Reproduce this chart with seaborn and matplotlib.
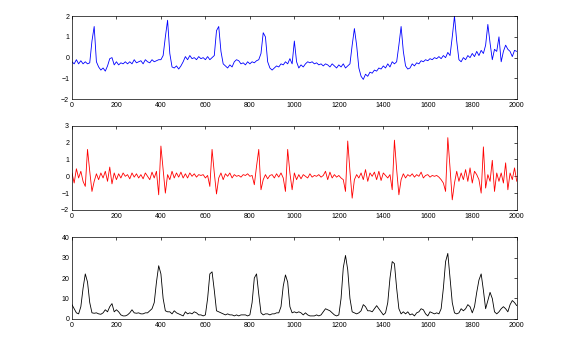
import pandas as pd
import matplotlib
matplotlib.use("Agg")
import matplotlib.pyplot as plt
import seaborn as sns

# sample positions (every 10 samples, 0..2000)
sample_x = list(range(0, 2001, 10))

# raw ECG signal (top, blue)
raw_ecg = [
    -0.2, -0.3, -0.1, -0.3, -0.15, -0.3, -0.2, -0.3, -0.25, 0.8,
    1.5, -0.2, -0.45, -0.6, -0.5, -0.65, -0.4, -0.05, 0.0, -0.35,
    -0.2, -0.35, -0.25, -0.3, -0.2, -0.3, -0.2, -0.3, -0.1, -0.25,
    -0.2, -0.15, -0.3, -0.1, -0.2, -0.25, -0.1, -0.2, -0.15, -0.1,
    -0.1, 0.1, 1.0, 1.8, 0.2, -0.45, -0.5, -0.4, -0.55, -0.4,
    -0.2, 0.05, -0.1, 0.1, -0.05, 0.0, -0.1, 0.05, -0.05, 0.0,
    -0.1, 0.05, -0.1, 0.0, 0.1, 1.3, 1.5, 0.3, -0.3, -0.4,
    -0.5, -0.35, -0.45, -0.2, -0.1, -0.15, -0.3, -0.25, -0.35, -0.2,
    -0.3, -0.2, -0.25, -0.15, -0.1, 0.2, 1.2, 1.0, -0.2, -0.5,
    -0.6, -0.5, -0.4, -0.45, -0.3, -0.35, -0.2, -0.3, -0.05, -0.3,
    0.8, -0.2, -0.5, -0.35, -0.45, -0.3, -0.2, -0.25, -0.2, -0.3,
    -0.25, -0.35, -0.3, -0.4, -0.3, -0.35, -0.45, -0.3, -0.4, -0.5,
    -0.35, -0.45, -0.3, -0.5, -0.4, -0.3, 0.6, 1.4, 0.6, -0.5,
    -0.9, -1.05, -0.8, -0.9, -0.7, -0.75, -0.6, -0.65, -0.5, -0.55,
    -0.4, -0.5, -0.3, -0.45, -0.2, -0.3, -0.2, 0.6, 1.5, 0.3,
    -0.4, -0.55, -0.5, -0.3, -0.4, -0.25, -0.3, -0.15, -0.2, -0.1,
    -0.15, -0.05, -0.1, 0.0, -0.05, 0.05, -0.05, 0.1, 0.0, 0.25,
    0.1, 1.0, 2.0, 0.8, -0.1, -0.2, 0.0, -0.1, 0.1, 0.0,
    0.2, 0.05, 0.3, 0.1, 0.35, 0.2, 0.6, 1.6, 0.7, -0.1,
    0.4, 0.3, 1.0, -0.2, 0.3, 0.6, 0.4, 0.3, 0.05, 0.35,
    0.3,
]

# band-pass filtered signal (middle, red)
filtered = [
    0.2, -0.4, 0.45, -0.1, 0.3, -0.3, -0.6, 1.6, 0.3, -0.9,
    -0.3, 0.15, -0.2, 0.2, -0.1, 0.3, -0.3, 0.55, -0.45, 0.2,
    -0.2, 0.15, -0.1, 0.2, 0.0, 0.1, -0.15, 0.2, -0.05, 0.15,
    -0.1, 0.1, -0.15, 0.2, 0.0, -0.2, 0.25, -0.1, 0.3, -1.1,
    1.8, 0.4, -1.0, 0.1, -0.2, 0.3, -0.1, 0.2, -0.05, 0.25,
    -0.1, 0.15, -0.1, 0.2, 0.0, 0.15, -0.05, 0.1, 0.05, 0.1,
    -0.1, 0.05, -0.6, 1.6, 0.2, -1.05, -0.1, 0.2, -0.2, 0.15,
    0.0, 0.2, -0.1, 0.1, 0.0, 0.05, -0.05, 0.1, 0.05, 0.15,
    0.0, 0.05, -0.5, 0.6, 1.6, -0.8, -0.2, 0.1, -0.15, 0.05,
    0.1, -0.1, 0.15, -0.05, 0.2, -0.1, -0.9, 1.6, 0.2, -0.8,
    0.2, -0.2, 0.1, -0.15, 0.1, 0.0, -0.1, 0.15, -0.05, 0.05,
    0.0, 0.1, -0.05, 0.05, 0.3, -0.2, 0.25, -0.1, 0.1, -0.05,
    0.05, -0.1, -0.2, -0.9, 2.1, 0.3, -1.3, -0.2, 0.1, -0.1,
    0.2, -0.2, 0.4, -0.3, 0.2, 0.0, 0.25, -0.2, 0.3, -0.25,
    0.2, 0.05, -0.1, 0.1, -0.8, 2.15, 0.4, -1.1, -0.2, 0.15,
    -0.1, 0.1, 0.0, 0.15, -0.05, 0.1, 0.0, 0.25, -0.1, 0.05,
    0.1, -0.05, 0.05, 0.0, 0.05, -0.05, -0.2, -0.4, -0.9, 2.3,
    0.5, -1.4, -0.4, 0.3, -0.3, 0.2, -0.2, 0.4, -0.3, 0.5,
    -0.4, 0.3, 0.1, -0.2, -1.0, 1.75, -0.7, 0.1, -0.3, 0.95,
    -0.9, 0.2, -0.3, 0.2, -0.4, 0.8, -0.8, 0.2, -0.2, 0.5,
    -0.3,
]

# energy envelope (bottom, black)
envelope = [
    7, 5, 3, 2.5, 6, 15, 22, 18, 8, 3,
    2.8, 3, 2.5, 2.3, 3, 4.5, 3.5, 6, 7.5, 3.5,
    4.5, 3.5, 2, 1.5, 1.5, 2, 3, 4.5, 3, 2.8,
    3, 2.5, 2.5, 3, 3, 4, 5, 8, 18, 26,
    22, 10, 4, 3.5, 3.5, 2.5, 4, 3, 2.5, 2,
    1.5, 3.5, 2.5, 3, 2.5, 3.5, 3, 2, 2, 1.5,
    2, 10, 22, 23, 14, 4, 3.5, 3, 2.5, 2,
    2.5, 2, 2, 1.5, 2, 1.5, 2, 2, 2, 1.5,
    2, 8, 20, 22, 12, 3, 2, 2.5, 2.5, 2,
    2.5, 2.5, 3, 3, 6, 16, 21.5, 18, 6, 3,
    3.5, 3, 3.5, 3, 2, 3, 2, 1.5, 1.5, 1.5,
    2, 1.5, 2, 3.5, 5, 4.5, 4, 3, 2, 1.5,
    2, 10, 25, 31, 24, 10, 3.5, 3, 2.5, 3,
    4, 7, 6, 4, 4, 3.5, 5, 6.5, 5, 3.5,
    2, 3, 8, 20, 28, 27, 15, 5, 2.5, 3.5,
    2.5, 3.5, 2, 2.5, 1.5, 3, 3.5, 5, 4.5, 2.5,
    1.5, 3.5, 3, 2.5, 3, 2.5, 5, 15, 28, 32,
    20, 8, 3, 2.5, 3, 5, 4, 5, 7, 6,
    3, 6, 13, 19, 22, 14, 5, 9, 13, 10,
    3.5, 2.5, 3.5, 5, 6, 5, 3.5, 7, 9, 8,
    6.5,
]

xticks = list(range(0, 2001, 200))
panels = [
    (raw_ecg, "#0000ff", (-2, 2), [-2, -1, 0, 1, 2]),
    (filtered, "#ff0000", (-2, 3), [-2, -1, 0, 1, 2, 3]),
    (envelope, "#000000", (0, 40), [0, 10, 20, 30, 40]),
]
rects = [
    [0.126, 0.711, 0.779, 0.242],
    [0.126, 0.388, 0.779, 0.245],
    [0.126, 0.070, 0.779, 0.239],
]

sns.set_style("white")
plt.rcParams["font.family"] = ["Liberation Sans", "DejaVu Sans"]

fig = plt.figure(figsize=(5.71, 3.43), dpi=100)
for (vals, color, ylim, yticks), rect in zip(panels, rects):
    ax = fig.add_axes(rect)
    df = pd.DataFrame({"n": sample_x, "v": vals})
    sns.lineplot(data=df, x="n", y="v", color=color, linewidth=0.6, ax=ax)
    ax.set_xlim(0, 2000)
    ax.set_ylim(*ylim)
    ax.set_xticks(xticks)
    ax.set_yticks(yticks)
    ax.set_xlabel("")
    ax.set_ylabel("")
    ax.tick_params(direction="in", top=True, right=True, length=2.5,
                   width=0.5, labelsize=5, pad=2, colors="black")
    for s in ax.spines.values():
        s.set_color("black")
        s.set_linewidth(0.5)

fig.savefig("out.png", dpi=100, facecolor="white")
